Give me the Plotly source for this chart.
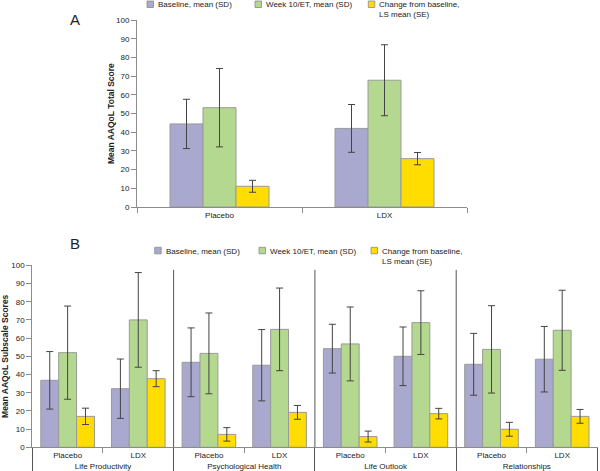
import plotly.graph_objects as go

# ---------------- Panel A data ----------------
arms_a = ["Placebo", "LDX"]
baseline_a = [44.5, 42.1]
baseline_a_sd = [13.2, 12.8]
week10_a = [53.2, 67.9]
week10_a_sd = [21.0, 19.0]
change_a = [11.1, 25.9]
change_a_se = [3.2, 3.3]

# ---------------- Panel B data ----------------
domains_b = ["Life Productivity", "Life Productivity",
             "Psychological Health", "Psychological Health",
             "Life Outlook", "Life Outlook",
             "Relationships", "Relationships"]
arms_b = ["Placebo", "LDX", "Placebo", "LDX", "Placebo", "LDX", "Placebo", "LDX"]
baseline_b = [36.8, 32.2, 46.7, 45.1, 54.2, 50.0, 45.6, 48.4]
baseline_b_sd = [15.8, 16.3, 18.9, 19.6, 13.4, 16.1, 17.0, 18.0]
week10_b = [52.0, 70.0, 51.6, 64.8, 56.8, 68.5, 53.8, 64.3]
week10_b_sd = [25.6, 26.0, 22.2, 22.7, 20.3, 17.5, 24.0, 22.0]
change_b = [17.0, 37.7, 7.1, 19.2, 5.9, 18.5, 9.9, 17.0]
change_b_se = [4.5, 4.4, 3.7, 3.8, 3.0, 2.9, 3.8, 3.8]

series_names = ["Baseline, mean (SD)", "Week 10/ET, mean (SD)",
                "Change from baseline,<br>LS mean (SE)"]
colors = ["#A9A8CE", "#B4D88F", "#FFDD00"]

FONT = "Liberation Sans, Arial, Helvetica, sans-serif"
TXT = "#222222"
AX = "#8c8c8c"
ERR = "#444444"
W = 600.0
H = 471.0

fig = go.Figure()

vals_a = [(baseline_a, baseline_a_sd), (week10_a, week10_a_sd), (change_a, change_a_se)]
wa = 0.2
for i, (v, e) in enumerate(vals_a):
    fig.add_trace(go.Bar(
        x=arms_a, y=v, name=series_names[i], showlegend=False,
        width=wa, offset=-1.5 * wa + i * wa,
        marker=dict(color=colors[i], line=dict(color="#9a9a9a", width=1)),
        error_y=dict(type="data", array=e, visible=True, color=ERR,
                     thickness=1, width=3.5),
        xaxis="x", yaxis="y"))

vals_b = [(baseline_b, baseline_b_sd), (week10_b, week10_b_sd), (change_b, change_b_se)]
wb = 0.253
for i, (v, e) in enumerate(vals_b):
    fig.add_trace(go.Bar(
        x=[domains_b, arms_b], y=v, name=series_names[i], showlegend=False,
        width=wb, offset=-1.5 * wb + i * wb,
        marker=dict(color=colors[i], line=dict(color="#9a9a9a", width=1)),
        error_y=dict(type="data", array=e, visible=True, color=ERR,
                     thickness=1, width=3.5),
        xaxis="x2", yaxis="y2"))

common_y = dict(range=[0, 100], dtick=10, showline=True, linecolor=AX, linewidth=1,
                ticks="outside", ticklen=5, tickcolor=AX, showgrid=False,
                zeroline=False, tickfont=dict(size=8, color=TXT), automargin=False,
                fixedrange=True)

fig.update_layout(
    width=600, height=471,
    margin=dict(l=0, r=0, t=0, b=0),
    paper_bgcolor="white", plot_bgcolor="white",
    font=dict(family=FONT, color=TXT, size=8),
    barmode="group",
    showlegend=False,
    xaxis=dict(domain=[137 / W, 467 / W], anchor="y", range=[-0.5, 1.5],
               showline=True, linecolor=AX, linewidth=1, ticks="outside",
               tickson="boundaries", ticklen=5, tickcolor=AX, showgrid=False,
               tickfont=dict(size=8, color=TXT), automargin=False),
    yaxis=dict(domain=[1 - 207 / H, 1 - 20.3 / H], anchor="x",
               title=dict(text="<b>Mean AAQoL Total Score</b>", font=dict(size=8.5),
                          standoff=0),
               **common_y),
    xaxis2=dict(domain=[32.3 / W, 597.5 / W], anchor="y2", type="multicategory",
                showline=True, linecolor=AX, linewidth=1, ticks="outside",
                tickson="boundaries", ticklen=5, tickcolor=AX, showgrid=False,
                showdividers=True, dividercolor="#555555", dividerwidth=1,
                tickfont=dict(size=8, color=TXT), automargin=False),
    yaxis2=dict(domain=[1 - 447.3 / H, 1 - 265.3 / H], anchor="x2",
                title=dict(text="<b>Mean AAQoL Subscale Scores</b>", font=dict(size=8.5),
                           standoff=4),
                **common_y),
)

# group dividers extending up into panel B
for fx in [0.25, 0.5, 0.75]:
    fig.add_shape(type="line", xref="x2 domain", yref="y2 domain",
                  x0=fx, x1=fx, y0=0, y1=0.975,
                  line=dict(color="#555555", width=1))

# legends (small swatches + text), one per panel
legend_swatch_x = {"A": [147, 255, 368.3], "B": [154.7, 259, 371]}
legend_top_y = {"A": 1.0, "B": 247.3}
for key in ["A", "B"]:
    for i in range(3):
        x0 = legend_swatch_x[key][i]
        y0 = legend_top_y[key]
        fig.add_shape(type="rect", xref="paper", yref="paper",
                      x0=x0 / W, x1=(x0 + 6.5) / W,
                      y0=1 - y0 / H, y1=1 - (y0 + 6.5) / H,
                      fillcolor=colors[i], line=dict(color="#8a8a8a", width=0.8))
        fig.add_annotation(text=series_names[i], xref="paper", yref="paper",
                           x=(x0 + 10) / W, y=1 - (y0 - 1.5) / H,
                           xanchor="left", yanchor="top", align="left",
                           showarrow=False, font=dict(size=8, color=TXT),
                           borderpad=0)

fig.add_annotation(text="A", x=75 / W, y=1 - 20 / H, xref="paper", yref="paper",
                   showarrow=False, font=dict(size=15, color=TXT),
                   xanchor="center", yanchor="middle")
fig.add_annotation(text="B", x=75 / W, y=1 - 243 / H, xref="paper", yref="paper",
                   showarrow=False, font=dict(size=15, color=TXT),
                   xanchor="center", yanchor="middle")

fig.write_html("out.html", config={"displayModeBar": False},
               post_script="document.body.style.margin='0';document.body.style.overflow='hidden';")
